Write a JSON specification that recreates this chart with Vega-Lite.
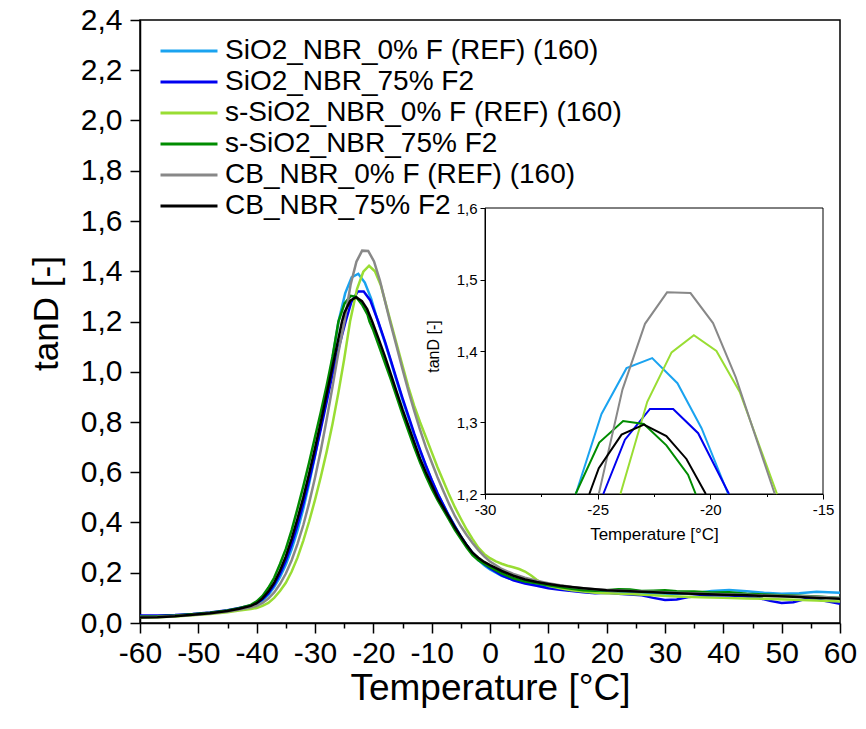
{
"$schema":"https://vega.github.io/schema/vega-lite/v6.json",
"width":700,"height":603,
"autosize":{"type":"none"},
"padding":{"left":140,"top":20,"right":26,"bottom":106},
"background":"white",
"config":{
 "font":"Liberation Sans",
 "view":{"stroke":"black","strokeWidth":1.5},
 "axis":{"grid":false,"domainColor":"black","tickColor":"black","labelColor":"black","titleColor":"black","titleFontWeight":"normal","labelFont":"Liberation Sans","titleFont":"Liberation Sans"},
 "legend":{"labelFont":"Liberation Sans"}
},
"data":{"values":[
{"s":"SiO2_NBR_0% F (REF) (160)","T":-60,"v":0.025},{"s":"SiO2_NBR_0% F (REF) (160)","T":-57,"v":0.026},{"s":"SiO2_NBR_0% F (REF) (160)","T":-54,"v":0.029},{"s":"SiO2_NBR_0% F (REF) (160)","T":-51,"v":0.034},{"s":"SiO2_NBR_0% F (REF) (160)","T":-48,"v":0.04},{"s":"SiO2_NBR_0% F (REF) (160)","T":-45,"v":0.048},{"s":"SiO2_NBR_0% F (REF) (160)","T":-43,"v":0.057},{"s":"SiO2_NBR_0% F (REF) (160)","T":-41,"v":0.066},{"s":"SiO2_NBR_0% F (REF) (160)","T":-40,"v":0.075},{"s":"SiO2_NBR_0% F (REF) (160)","T":-39,"v":0.09},{"s":"SiO2_NBR_0% F (REF) (160)","T":-38,"v":0.112},{"s":"SiO2_NBR_0% F (REF) (160)","T":-37,"v":0.143},{"s":"SiO2_NBR_0% F (REF) (160)","T":-36,"v":0.182},{"s":"SiO2_NBR_0% F (REF) (160)","T":-35,"v":0.232},{"s":"SiO2_NBR_0% F (REF) (160)","T":-34,"v":0.293},{"s":"SiO2_NBR_0% F (REF) (160)","T":-33,"v":0.368},{"s":"SiO2_NBR_0% F (REF) (160)","T":-32,"v":0.455},{"s":"SiO2_NBR_0% F (REF) (160)","T":-31,"v":0.555},{"s":"SiO2_NBR_0% F (REF) (160)","T":-30,"v":0.665},{"s":"SiO2_NBR_0% F (REF) (160)","T":-29,"v":0.785},{"s":"SiO2_NBR_0% F (REF) (160)","T":-28,"v":0.915},{"s":"SiO2_NBR_0% F (REF) (160)","T":-27,"v":1.055},{"s":"SiO2_NBR_0% F (REF) (160)","T":-25.97,"v":1.2},{"s":"SiO2_NBR_0% F (REF) (160)","T":-24.83,"v":1.312},{"s":"SiO2_NBR_0% F (REF) (160)","T":-23.72,"v":1.376},{"s":"SiO2_NBR_0% F (REF) (160)","T":-22.58,"v":1.39},{"s":"SiO2_NBR_0% F (REF) (160)","T":-21.46,"v":1.355},{"s":"SiO2_NBR_0% F (REF) (160)","T":-20.39,"v":1.292},{"s":"SiO2_NBR_0% F (REF) (160)","T":-19.21,"v":1.2},{"s":"SiO2_NBR_0% F (REF) (160)","T":-18,"v":1.115},{"s":"SiO2_NBR_0% F (REF) (160)","T":-17,"v":1.04},{"s":"SiO2_NBR_0% F (REF) (160)","T":-16,"v":0.963},{"s":"SiO2_NBR_0% F (REF) (160)","T":-15,"v":0.888},{"s":"SiO2_NBR_0% F (REF) (160)","T":-14,"v":0.818},{"s":"SiO2_NBR_0% F (REF) (160)","T":-13,"v":0.75},{"s":"SiO2_NBR_0% F (REF) (160)","T":-12,"v":0.685},{"s":"SiO2_NBR_0% F (REF) (160)","T":-11,"v":0.625},{"s":"SiO2_NBR_0% F (REF) (160)","T":-10,"v":0.568},{"s":"SiO2_NBR_0% F (REF) (160)","T":-9,"v":0.515},{"s":"SiO2_NBR_0% F (REF) (160)","T":-8,"v":0.47},{"s":"SiO2_NBR_0% F (REF) (160)","T":-7,"v":0.425},{"s":"SiO2_NBR_0% F (REF) (160)","T":-6,"v":0.385},{"s":"SiO2_NBR_0% F (REF) (160)","T":-5,"v":0.345},{"s":"SiO2_NBR_0% F (REF) (160)","T":-4,"v":0.31},{"s":"SiO2_NBR_0% F (REF) (160)","T":-3,"v":0.275},{"s":"SiO2_NBR_0% F (REF) (160)","T":-2,"v":0.25},{"s":"SiO2_NBR_0% F (REF) (160)","T":-1,"v":0.23},{"s":"SiO2_NBR_0% F (REF) (160)","T":0,"v":0.213},{"s":"SiO2_NBR_0% F (REF) (160)","T":2,"v":0.188},{"s":"SiO2_NBR_0% F (REF) (160)","T":4,"v":0.172},{"s":"SiO2_NBR_0% F (REF) (160)","T":6,"v":0.162},{"s":"SiO2_NBR_0% F (REF) (160)","T":8,"v":0.155},{"s":"SiO2_NBR_0% F (REF) (160)","T":10,"v":0.146},{"s":"SiO2_NBR_0% F (REF) (160)","T":12,"v":0.14},{"s":"SiO2_NBR_0% F (REF) (160)","T":14,"v":0.134},{"s":"SiO2_NBR_0% F (REF) (160)","T":16,"v":0.128},{"s":"SiO2_NBR_0% F (REF) (160)","T":18,"v":0.124},{"s":"SiO2_NBR_0% F (REF) (160)","T":20,"v":0.122},{"s":"SiO2_NBR_0% F (REF) (160)","T":24,"v":0.12},{"s":"SiO2_NBR_0% F (REF) (160)","T":28,"v":0.117},{"s":"SiO2_NBR_0% F (REF) (160)","T":32,"v":0.115},{"s":"SiO2_NBR_0% F (REF) (160)","T":35,"v":0.118},{"s":"SiO2_NBR_0% F (REF) (160)","T":38,"v":0.127},{"s":"SiO2_NBR_0% F (REF) (160)","T":41,"v":0.131},{"s":"SiO2_NBR_0% F (REF) (160)","T":44,"v":0.126},{"s":"SiO2_NBR_0% F (REF) (160)","T":47,"v":0.12},{"s":"SiO2_NBR_0% F (REF) (160)","T":50,"v":0.116},{"s":"SiO2_NBR_0% F (REF) (160)","T":53,"v":0.118},{"s":"SiO2_NBR_0% F (REF) (160)","T":56,"v":0.124},{"s":"SiO2_NBR_0% F (REF) (160)","T":58,"v":0.122},{"s":"SiO2_NBR_0% F (REF) (160)","T":60,"v":0.12},
{"s":"SiO2_NBR_75% F2","T":-60,"v":0.03},{"s":"SiO2_NBR_75% F2","T":-57,"v":0.03},{"s":"SiO2_NBR_75% F2","T":-54,"v":0.032},{"s":"SiO2_NBR_75% F2","T":-51,"v":0.036},{"s":"SiO2_NBR_75% F2","T":-48,"v":0.042},{"s":"SiO2_NBR_75% F2","T":-45,"v":0.051},{"s":"SiO2_NBR_75% F2","T":-43,"v":0.06},{"s":"SiO2_NBR_75% F2","T":-41,"v":0.07},{"s":"SiO2_NBR_75% F2","T":-40,"v":0.078},{"s":"SiO2_NBR_75% F2","T":-39,"v":0.094},{"s":"SiO2_NBR_75% F2","T":-38,"v":0.118},{"s":"SiO2_NBR_75% F2","T":-37,"v":0.152},{"s":"SiO2_NBR_75% F2","T":-36,"v":0.195},{"s":"SiO2_NBR_75% F2","T":-35,"v":0.248},{"s":"SiO2_NBR_75% F2","T":-34,"v":0.313},{"s":"SiO2_NBR_75% F2","T":-33,"v":0.39},{"s":"SiO2_NBR_75% F2","T":-32,"v":0.475},{"s":"SiO2_NBR_75% F2","T":-31,"v":0.568},{"s":"SiO2_NBR_75% F2","T":-30,"v":0.668},{"s":"SiO2_NBR_75% F2","T":-29,"v":0.772},{"s":"SiO2_NBR_75% F2","T":-28,"v":0.88},{"s":"SiO2_NBR_75% F2","T":-27,"v":0.99},{"s":"SiO2_NBR_75% F2","T":-26,"v":1.09},{"s":"SiO2_NBR_75% F2","T":-24.75,"v":1.2},{"s":"SiO2_NBR_75% F2","T":-23.79,"v":1.276},{"s":"SiO2_NBR_75% F2","T":-22.68,"v":1.319},{"s":"SiO2_NBR_75% F2","T":-21.65,"v":1.319},{"s":"SiO2_NBR_75% F2","T":-20.54,"v":1.285},{"s":"SiO2_NBR_75% F2","T":-19.17,"v":1.2},{"s":"SiO2_NBR_75% F2","T":-18,"v":1.12},{"s":"SiO2_NBR_75% F2","T":-17,"v":1.045},{"s":"SiO2_NBR_75% F2","T":-16,"v":0.97},{"s":"SiO2_NBR_75% F2","T":-15,"v":0.895},{"s":"SiO2_NBR_75% F2","T":-14,"v":0.825},{"s":"SiO2_NBR_75% F2","T":-13,"v":0.755},{"s":"SiO2_NBR_75% F2","T":-12,"v":0.69},{"s":"SiO2_NBR_75% F2","T":-11,"v":0.628},{"s":"SiO2_NBR_75% F2","T":-10,"v":0.57},{"s":"SiO2_NBR_75% F2","T":-9,"v":0.517},{"s":"SiO2_NBR_75% F2","T":-8,"v":0.47},{"s":"SiO2_NBR_75% F2","T":-7,"v":0.425},{"s":"SiO2_NBR_75% F2","T":-6,"v":0.384},{"s":"SiO2_NBR_75% F2","T":-5,"v":0.345},{"s":"SiO2_NBR_75% F2","T":-4,"v":0.31},{"s":"SiO2_NBR_75% F2","T":-3,"v":0.28},{"s":"SiO2_NBR_75% F2","T":-2,"v":0.255},{"s":"SiO2_NBR_75% F2","T":-1,"v":0.235},{"s":"SiO2_NBR_75% F2","T":0,"v":0.218},{"s":"SiO2_NBR_75% F2","T":2,"v":0.19},{"s":"SiO2_NBR_75% F2","T":4,"v":0.17},{"s":"SiO2_NBR_75% F2","T":6,"v":0.157},{"s":"SiO2_NBR_75% F2","T":8,"v":0.148},{"s":"SiO2_NBR_75% F2","T":10,"v":0.138},{"s":"SiO2_NBR_75% F2","T":12,"v":0.132},{"s":"SiO2_NBR_75% F2","T":14,"v":0.127},{"s":"SiO2_NBR_75% F2","T":16,"v":0.122},{"s":"SiO2_NBR_75% F2","T":18,"v":0.118},{"s":"SiO2_NBR_75% F2","T":20,"v":0.12},{"s":"SiO2_NBR_75% F2","T":22,"v":0.116},{"s":"SiO2_NBR_75% F2","T":24,"v":0.113},{"s":"SiO2_NBR_75% F2","T":26,"v":0.11},{"s":"SiO2_NBR_75% F2","T":28,"v":0.1},{"s":"SiO2_NBR_75% F2","T":30,"v":0.092},{"s":"SiO2_NBR_75% F2","T":32,"v":0.094},{"s":"SiO2_NBR_75% F2","T":34,"v":0.103},{"s":"SiO2_NBR_75% F2","T":37,"v":0.108},{"s":"SiO2_NBR_75% F2","T":40,"v":0.11},{"s":"SiO2_NBR_75% F2","T":43,"v":0.107},{"s":"SiO2_NBR_75% F2","T":46,"v":0.1},{"s":"SiO2_NBR_75% F2","T":48,"v":0.088},{"s":"SiO2_NBR_75% F2","T":50,"v":0.08},{"s":"SiO2_NBR_75% F2","T":52,"v":0.083},{"s":"SiO2_NBR_75% F2","T":54,"v":0.095},{"s":"SiO2_NBR_75% F2","T":56,"v":0.094},{"s":"SiO2_NBR_75% F2","T":58,"v":0.085},{"s":"SiO2_NBR_75% F2","T":60,"v":0.077},
{"s":"s-SiO2_NBR_0% F (REF) (160)","T":-60,"v":0.022},{"s":"s-SiO2_NBR_0% F (REF) (160)","T":-57,"v":0.023},{"s":"s-SiO2_NBR_0% F (REF) (160)","T":-54,"v":0.026},{"s":"s-SiO2_NBR_0% F (REF) (160)","T":-51,"v":0.031},{"s":"s-SiO2_NBR_0% F (REF) (160)","T":-48,"v":0.036},{"s":"s-SiO2_NBR_0% F (REF) (160)","T":-45,"v":0.043},{"s":"s-SiO2_NBR_0% F (REF) (160)","T":-43,"v":0.05},{"s":"s-SiO2_NBR_0% F (REF) (160)","T":-41,"v":0.056},{"s":"s-SiO2_NBR_0% F (REF) (160)","T":-40,"v":0.06},{"s":"s-SiO2_NBR_0% F (REF) (160)","T":-39,"v":0.068},{"s":"s-SiO2_NBR_0% F (REF) (160)","T":-38,"v":0.08},{"s":"s-SiO2_NBR_0% F (REF) (160)","T":-37,"v":0.1},{"s":"s-SiO2_NBR_0% F (REF) (160)","T":-36,"v":0.127},{"s":"s-SiO2_NBR_0% F (REF) (160)","T":-35,"v":0.16},{"s":"s-SiO2_NBR_0% F (REF) (160)","T":-34,"v":0.205},{"s":"s-SiO2_NBR_0% F (REF) (160)","T":-33,"v":0.26},{"s":"s-SiO2_NBR_0% F (REF) (160)","T":-32,"v":0.328},{"s":"s-SiO2_NBR_0% F (REF) (160)","T":-31,"v":0.405},{"s":"s-SiO2_NBR_0% F (REF) (160)","T":-30,"v":0.49},{"s":"s-SiO2_NBR_0% F (REF) (160)","T":-29,"v":0.582},{"s":"s-SiO2_NBR_0% F (REF) (160)","T":-28,"v":0.682},{"s":"s-SiO2_NBR_0% F (REF) (160)","T":-27,"v":0.792},{"s":"s-SiO2_NBR_0% F (REF) (160)","T":-26,"v":0.915},{"s":"s-SiO2_NBR_0% F (REF) (160)","T":-25,"v":1.05},{"s":"s-SiO2_NBR_0% F (REF) (160)","T":-23.99,"v":1.2},{"s":"s-SiO2_NBR_0% F (REF) (160)","T":-22.8,"v":1.329},{"s":"s-SiO2_NBR_0% F (REF) (160)","T":-21.72,"v":1.398},{"s":"s-SiO2_NBR_0% F (REF) (160)","T":-20.73,"v":1.422},{"s":"s-SiO2_NBR_0% F (REF) (160)","T":-19.73,"v":1.4},{"s":"s-SiO2_NBR_0% F (REF) (160)","T":-18.7,"v":1.343},{"s":"s-SiO2_NBR_0% F (REF) (160)","T":-17.04,"v":1.2},{"s":"s-SiO2_NBR_0% F (REF) (160)","T":-16,"v":1.11},{"s":"s-SiO2_NBR_0% F (REF) (160)","T":-15,"v":1.025},{"s":"s-SiO2_NBR_0% F (REF) (160)","T":-14,"v":0.94},{"s":"s-SiO2_NBR_0% F (REF) (160)","T":-13,"v":0.865},{"s":"s-SiO2_NBR_0% F (REF) (160)","T":-12,"v":0.8},{"s":"s-SiO2_NBR_0% F (REF) (160)","T":-11,"v":0.74},{"s":"s-SiO2_NBR_0% F (REF) (160)","T":-10,"v":0.68},{"s":"s-SiO2_NBR_0% F (REF) (160)","T":-9,"v":0.62},{"s":"s-SiO2_NBR_0% F (REF) (160)","T":-8,"v":0.565},{"s":"s-SiO2_NBR_0% F (REF) (160)","T":-7,"v":0.51},{"s":"s-SiO2_NBR_0% F (REF) (160)","T":-6,"v":0.46},{"s":"s-SiO2_NBR_0% F (REF) (160)","T":-5,"v":0.415},{"s":"s-SiO2_NBR_0% F (REF) (160)","T":-4,"v":0.372},{"s":"s-SiO2_NBR_0% F (REF) (160)","T":-3,"v":0.335},{"s":"s-SiO2_NBR_0% F (REF) (160)","T":-2,"v":0.3},{"s":"s-SiO2_NBR_0% F (REF) (160)","T":-1,"v":0.275},{"s":"s-SiO2_NBR_0% F (REF) (160)","T":0,"v":0.258},{"s":"s-SiO2_NBR_0% F (REF) (160)","T":1,"v":0.245},{"s":"s-SiO2_NBR_0% F (REF) (160)","T":2,"v":0.236},{"s":"s-SiO2_NBR_0% F (REF) (160)","T":3,"v":0.228},{"s":"s-SiO2_NBR_0% F (REF) (160)","T":4,"v":0.222},{"s":"s-SiO2_NBR_0% F (REF) (160)","T":5,"v":0.215},{"s":"s-SiO2_NBR_0% F (REF) (160)","T":6,"v":0.205},{"s":"s-SiO2_NBR_0% F (REF) (160)","T":7,"v":0.19},{"s":"s-SiO2_NBR_0% F (REF) (160)","T":8,"v":0.172},{"s":"s-SiO2_NBR_0% F (REF) (160)","T":9,"v":0.158},{"s":"s-SiO2_NBR_0% F (REF) (160)","T":10,"v":0.148},{"s":"s-SiO2_NBR_0% F (REF) (160)","T":12,"v":0.138},{"s":"s-SiO2_NBR_0% F (REF) (160)","T":14,"v":0.13},{"s":"s-SiO2_NBR_0% F (REF) (160)","T":16,"v":0.125},{"s":"s-SiO2_NBR_0% F (REF) (160)","T":18,"v":0.12},{"s":"s-SiO2_NBR_0% F (REF) (160)","T":20,"v":0.118},{"s":"s-SiO2_NBR_0% F (REF) (160)","T":24,"v":0.115},{"s":"s-SiO2_NBR_0% F (REF) (160)","T":28,"v":0.11},{"s":"s-SiO2_NBR_0% F (REF) (160)","T":32,"v":0.105},{"s":"s-SiO2_NBR_0% F (REF) (160)","T":36,"v":0.102},{"s":"s-SiO2_NBR_0% F (REF) (160)","T":40,"v":0.1},{"s":"s-SiO2_NBR_0% F (REF) (160)","T":44,"v":0.098},{"s":"s-SiO2_NBR_0% F (REF) (160)","T":48,"v":0.096},{"s":"s-SiO2_NBR_0% F (REF) (160)","T":52,"v":0.093},{"s":"s-SiO2_NBR_0% F (REF) (160)","T":56,"v":0.09},{"s":"s-SiO2_NBR_0% F (REF) (160)","T":60,"v":0.086},
{"s":"s-SiO2_NBR_75% F2","T":-60,"v":0.026},{"s":"s-SiO2_NBR_75% F2","T":-57,"v":0.027},{"s":"s-SiO2_NBR_75% F2","T":-54,"v":0.03},{"s":"s-SiO2_NBR_75% F2","T":-51,"v":0.035},{"s":"s-SiO2_NBR_75% F2","T":-48,"v":0.041},{"s":"s-SiO2_NBR_75% F2","T":-45,"v":0.05},{"s":"s-SiO2_NBR_75% F2","T":-43,"v":0.059},{"s":"s-SiO2_NBR_75% F2","T":-41,"v":0.072},{"s":"s-SiO2_NBR_75% F2","T":-40,"v":0.086},{"s":"s-SiO2_NBR_75% F2","T":-39,"v":0.108},{"s":"s-SiO2_NBR_75% F2","T":-38,"v":0.14},{"s":"s-SiO2_NBR_75% F2","T":-37,"v":0.18},{"s":"s-SiO2_NBR_75% F2","T":-36,"v":0.235},{"s":"s-SiO2_NBR_75% F2","T":-35,"v":0.295},{"s":"s-SiO2_NBR_75% F2","T":-34,"v":0.37},{"s":"s-SiO2_NBR_75% F2","T":-33,"v":0.455},{"s":"s-SiO2_NBR_75% F2","T":-32,"v":0.545},{"s":"s-SiO2_NBR_75% F2","T":-31,"v":0.64},{"s":"s-SiO2_NBR_75% F2","T":-30,"v":0.74},{"s":"s-SiO2_NBR_75% F2","T":-29,"v":0.84},{"s":"s-SiO2_NBR_75% F2","T":-28,"v":0.945},{"s":"s-SiO2_NBR_75% F2","T":-27,"v":1.06},{"s":"s-SiO2_NBR_75% F2","T":-25.98,"v":1.2},{"s":"s-SiO2_NBR_75% F2","T":-24.93,"v":1.272},{"s":"s-SiO2_NBR_75% F2","T":-23.87,"v":1.302},{"s":"s-SiO2_NBR_75% F2","T":-22.95,"v":1.298},{"s":"s-SiO2_NBR_75% F2","T":-21.95,"v":1.268},{"s":"s-SiO2_NBR_75% F2","T":-20.99,"v":1.227},{"s":"s-SiO2_NBR_75% F2","T":-20.65,"v":1.2},{"s":"s-SiO2_NBR_75% F2","T":-20,"v":1.165},{"s":"s-SiO2_NBR_75% F2","T":-19,"v":1.1},{"s":"s-SiO2_NBR_75% F2","T":-18,"v":1.035},{"s":"s-SiO2_NBR_75% F2","T":-17,"v":0.97},{"s":"s-SiO2_NBR_75% F2","T":-16,"v":0.9},{"s":"s-SiO2_NBR_75% F2","T":-15,"v":0.83},{"s":"s-SiO2_NBR_75% F2","T":-14,"v":0.765},{"s":"s-SiO2_NBR_75% F2","T":-13,"v":0.7},{"s":"s-SiO2_NBR_75% F2","T":-12,"v":0.64},{"s":"s-SiO2_NBR_75% F2","T":-11,"v":0.585},{"s":"s-SiO2_NBR_75% F2","T":-10,"v":0.535},{"s":"s-SiO2_NBR_75% F2","T":-9,"v":0.49},{"s":"s-SiO2_NBR_75% F2","T":-8,"v":0.45},{"s":"s-SiO2_NBR_75% F2","T":-7,"v":0.41},{"s":"s-SiO2_NBR_75% F2","T":-6,"v":0.37},{"s":"s-SiO2_NBR_75% F2","T":-5,"v":0.335},{"s":"s-SiO2_NBR_75% F2","T":-4,"v":0.3},{"s":"s-SiO2_NBR_75% F2","T":-3,"v":0.27},{"s":"s-SiO2_NBR_75% F2","T":-2,"v":0.25},{"s":"s-SiO2_NBR_75% F2","T":-1,"v":0.235},{"s":"s-SiO2_NBR_75% F2","T":0,"v":0.222},{"s":"s-SiO2_NBR_75% F2","T":2,"v":0.198},{"s":"s-SiO2_NBR_75% F2","T":4,"v":0.178},{"s":"s-SiO2_NBR_75% F2","T":6,"v":0.165},{"s":"s-SiO2_NBR_75% F2","T":8,"v":0.158},{"s":"s-SiO2_NBR_75% F2","T":10,"v":0.15},{"s":"s-SiO2_NBR_75% F2","T":12,"v":0.143},{"s":"s-SiO2_NBR_75% F2","T":14,"v":0.136},{"s":"s-SiO2_NBR_75% F2","T":16,"v":0.13},{"s":"s-SiO2_NBR_75% F2","T":18,"v":0.128},{"s":"s-SiO2_NBR_75% F2","T":20,"v":0.13},{"s":"s-SiO2_NBR_75% F2","T":22,"v":0.134},{"s":"s-SiO2_NBR_75% F2","T":24,"v":0.133},{"s":"s-SiO2_NBR_75% F2","T":26,"v":0.127},{"s":"s-SiO2_NBR_75% F2","T":28,"v":0.128},{"s":"s-SiO2_NBR_75% F2","T":30,"v":0.13},{"s":"s-SiO2_NBR_75% F2","T":32,"v":0.126},{"s":"s-SiO2_NBR_75% F2","T":35,"v":0.125},{"s":"s-SiO2_NBR_75% F2","T":38,"v":0.121},{"s":"s-SiO2_NBR_75% F2","T":41,"v":0.122},{"s":"s-SiO2_NBR_75% F2","T":44,"v":0.116},{"s":"s-SiO2_NBR_75% F2","T":47,"v":0.113},{"s":"s-SiO2_NBR_75% F2","T":50,"v":0.11},{"s":"s-SiO2_NBR_75% F2","T":53,"v":0.108},{"s":"s-SiO2_NBR_75% F2","T":56,"v":0.105},{"s":"s-SiO2_NBR_75% F2","T":60,"v":0.1},
{"s":"CB_NBR_0% F (REF) (160)","T":-60,"v":0.024},{"s":"CB_NBR_0% F (REF) (160)","T":-57,"v":0.025},{"s":"CB_NBR_0% F (REF) (160)","T":-54,"v":0.028},{"s":"CB_NBR_0% F (REF) (160)","T":-51,"v":0.032},{"s":"CB_NBR_0% F (REF) (160)","T":-48,"v":0.038},{"s":"CB_NBR_0% F (REF) (160)","T":-45,"v":0.046},{"s":"CB_NBR_0% F (REF) (160)","T":-43,"v":0.054},{"s":"CB_NBR_0% F (REF) (160)","T":-41,"v":0.063},{"s":"CB_NBR_0% F (REF) (160)","T":-40,"v":0.068},{"s":"CB_NBR_0% F (REF) (160)","T":-39,"v":0.08},{"s":"CB_NBR_0% F (REF) (160)","T":-38,"v":0.097},{"s":"CB_NBR_0% F (REF) (160)","T":-37,"v":0.122},{"s":"CB_NBR_0% F (REF) (160)","T":-36,"v":0.155},{"s":"CB_NBR_0% F (REF) (160)","T":-35,"v":0.197},{"s":"CB_NBR_0% F (REF) (160)","T":-34,"v":0.25},{"s":"CB_NBR_0% F (REF) (160)","T":-33,"v":0.315},{"s":"CB_NBR_0% F (REF) (160)","T":-32,"v":0.39},{"s":"CB_NBR_0% F (REF) (160)","T":-31,"v":0.478},{"s":"CB_NBR_0% F (REF) (160)","T":-30,"v":0.578},{"s":"CB_NBR_0% F (REF) (160)","T":-29,"v":0.688},{"s":"CB_NBR_0% F (REF) (160)","T":-28,"v":0.81},{"s":"CB_NBR_0% F (REF) (160)","T":-27,"v":0.94},{"s":"CB_NBR_0% F (REF) (160)","T":-26,"v":1.075},{"s":"CB_NBR_0% F (REF) (160)","T":-24.95,"v":1.2},{"s":"CB_NBR_0% F (REF) (160)","T":-23.9,"v":1.346},{"s":"CB_NBR_0% F (REF) (160)","T":-22.9,"v":1.438},{"s":"CB_NBR_0% F (REF) (160)","T":-21.92,"v":1.482},{"s":"CB_NBR_0% F (REF) (160)","T":-20.88,"v":1.481},{"s":"CB_NBR_0% F (REF) (160)","T":-19.88,"v":1.439},{"s":"CB_NBR_0% F (REF) (160)","T":-18.87,"v":1.363},{"s":"CB_NBR_0% F (REF) (160)","T":-17.14,"v":1.2},{"s":"CB_NBR_0% F (REF) (160)","T":-16,"v":1.1},{"s":"CB_NBR_0% F (REF) (160)","T":-15,"v":1.01},{"s":"CB_NBR_0% F (REF) (160)","T":-14,"v":0.925},{"s":"CB_NBR_0% F (REF) (160)","T":-13,"v":0.845},{"s":"CB_NBR_0% F (REF) (160)","T":-12,"v":0.77},{"s":"CB_NBR_0% F (REF) (160)","T":-11,"v":0.7},{"s":"CB_NBR_0% F (REF) (160)","T":-10,"v":0.64},{"s":"CB_NBR_0% F (REF) (160)","T":-9,"v":0.58},{"s":"CB_NBR_0% F (REF) (160)","T":-8,"v":0.525},{"s":"CB_NBR_0% F (REF) (160)","T":-7,"v":0.473},{"s":"CB_NBR_0% F (REF) (160)","T":-6,"v":0.425},{"s":"CB_NBR_0% F (REF) (160)","T":-5,"v":0.385},{"s":"CB_NBR_0% F (REF) (160)","T":-4,"v":0.35},{"s":"CB_NBR_0% F (REF) (160)","T":-3,"v":0.318},{"s":"CB_NBR_0% F (REF) (160)","T":-2,"v":0.29},{"s":"CB_NBR_0% F (REF) (160)","T":-1,"v":0.265},{"s":"CB_NBR_0% F (REF) (160)","T":0,"v":0.245},{"s":"CB_NBR_0% F (REF) (160)","T":2,"v":0.215},{"s":"CB_NBR_0% F (REF) (160)","T":4,"v":0.195},{"s":"CB_NBR_0% F (REF) (160)","T":6,"v":0.18},{"s":"CB_NBR_0% F (REF) (160)","T":8,"v":0.168},{"s":"CB_NBR_0% F (REF) (160)","T":10,"v":0.158},{"s":"CB_NBR_0% F (REF) (160)","T":12,"v":0.15},{"s":"CB_NBR_0% F (REF) (160)","T":14,"v":0.143},{"s":"CB_NBR_0% F (REF) (160)","T":16,"v":0.138},{"s":"CB_NBR_0% F (REF) (160)","T":18,"v":0.134},{"s":"CB_NBR_0% F (REF) (160)","T":20,"v":0.131},{"s":"CB_NBR_0% F (REF) (160)","T":24,"v":0.127},{"s":"CB_NBR_0% F (REF) (160)","T":28,"v":0.124},{"s":"CB_NBR_0% F (REF) (160)","T":32,"v":0.12},{"s":"CB_NBR_0% F (REF) (160)","T":36,"v":0.117},{"s":"CB_NBR_0% F (REF) (160)","T":40,"v":0.114},{"s":"CB_NBR_0% F (REF) (160)","T":44,"v":0.112},{"s":"CB_NBR_0% F (REF) (160)","T":48,"v":0.109},{"s":"CB_NBR_0% F (REF) (160)","T":52,"v":0.107},{"s":"CB_NBR_0% F (REF) (160)","T":56,"v":0.104},{"s":"CB_NBR_0% F (REF) (160)","T":60,"v":0.1},
{"s":"CB_NBR_75% F2","T":-60,"v":0.022},{"s":"CB_NBR_75% F2","T":-57,"v":0.023},{"s":"CB_NBR_75% F2","T":-54,"v":0.027},{"s":"CB_NBR_75% F2","T":-51,"v":0.033},{"s":"CB_NBR_75% F2","T":-48,"v":0.039},{"s":"CB_NBR_75% F2","T":-45,"v":0.048},{"s":"CB_NBR_75% F2","T":-43,"v":0.057},{"s":"CB_NBR_75% F2","T":-41,"v":0.068},{"s":"CB_NBR_75% F2","T":-40,"v":0.079},{"s":"CB_NBR_75% F2","T":-39,"v":0.098},{"s":"CB_NBR_75% F2","T":-38,"v":0.125},{"s":"CB_NBR_75% F2","T":-37,"v":0.16},{"s":"CB_NBR_75% F2","T":-36,"v":0.208},{"s":"CB_NBR_75% F2","T":-35,"v":0.265},{"s":"CB_NBR_75% F2","T":-34,"v":0.335},{"s":"CB_NBR_75% F2","T":-33,"v":0.415},{"s":"CB_NBR_75% F2","T":-32,"v":0.5},{"s":"CB_NBR_75% F2","T":-31,"v":0.595},{"s":"CB_NBR_75% F2","T":-30,"v":0.695},{"s":"CB_NBR_75% F2","T":-29,"v":0.8},{"s":"CB_NBR_75% F2","T":-28,"v":0.91},{"s":"CB_NBR_75% F2","T":-27,"v":1.02},{"s":"CB_NBR_75% F2","T":-26,"v":1.13},{"s":"CB_NBR_75% F2","T":-25.37,"v":1.2},{"s":"CB_NBR_75% F2","T":-24.95,"v":1.236},{"s":"CB_NBR_75% F2","T":-23.94,"v":1.283},{"s":"CB_NBR_75% F2","T":-22.95,"v":1.297},{"s":"CB_NBR_75% F2","T":-21.95,"v":1.281},{"s":"CB_NBR_75% F2","T":-21.06,"v":1.249},{"s":"CB_NBR_75% F2","T":-20.2,"v":1.2},{"s":"CB_NBR_75% F2","T":-19,"v":1.125},{"s":"CB_NBR_75% F2","T":-18,"v":1.06},{"s":"CB_NBR_75% F2","T":-17,"v":0.99},{"s":"CB_NBR_75% F2","T":-16,"v":0.92},{"s":"CB_NBR_75% F2","T":-15,"v":0.85},{"s":"CB_NBR_75% F2","T":-14,"v":0.785},{"s":"CB_NBR_75% F2","T":-13,"v":0.72},{"s":"CB_NBR_75% F2","T":-12,"v":0.655},{"s":"CB_NBR_75% F2","T":-11,"v":0.6},{"s":"CB_NBR_75% F2","T":-10,"v":0.55},{"s":"CB_NBR_75% F2","T":-9,"v":0.5},{"s":"CB_NBR_75% F2","T":-8,"v":0.46},{"s":"CB_NBR_75% F2","T":-7,"v":0.42},{"s":"CB_NBR_75% F2","T":-6,"v":0.38},{"s":"CB_NBR_75% F2","T":-5,"v":0.345},{"s":"CB_NBR_75% F2","T":-4,"v":0.31},{"s":"CB_NBR_75% F2","T":-3,"v":0.28},{"s":"CB_NBR_75% F2","T":-2,"v":0.26},{"s":"CB_NBR_75% F2","T":-1,"v":0.243},{"s":"CB_NBR_75% F2","T":0,"v":0.23},{"s":"CB_NBR_75% F2","T":2,"v":0.207},{"s":"CB_NBR_75% F2","T":4,"v":0.188},{"s":"CB_NBR_75% F2","T":6,"v":0.173},{"s":"CB_NBR_75% F2","T":8,"v":0.163},{"s":"CB_NBR_75% F2","T":10,"v":0.155},{"s":"CB_NBR_75% F2","T":12,"v":0.148},{"s":"CB_NBR_75% F2","T":14,"v":0.143},{"s":"CB_NBR_75% F2","T":16,"v":0.138},{"s":"CB_NBR_75% F2","T":18,"v":0.134},{"s":"CB_NBR_75% F2","T":20,"v":0.13},{"s":"CB_NBR_75% F2","T":24,"v":0.126},{"s":"CB_NBR_75% F2","T":28,"v":0.122},{"s":"CB_NBR_75% F2","T":32,"v":0.118},{"s":"CB_NBR_75% F2","T":36,"v":0.115},{"s":"CB_NBR_75% F2","T":40,"v":0.112},{"s":"CB_NBR_75% F2","T":44,"v":0.11},{"s":"CB_NBR_75% F2","T":48,"v":0.107},{"s":"CB_NBR_75% F2","T":52,"v":0.104},{"s":"CB_NBR_75% F2","T":56,"v":0.1},{"s":"CB_NBR_75% F2","T":60,"v":0.097}
]},
"layer":[
 {
  "mark":{"type":"line","strokeWidth":2.5},
  "encoding":{
   "x":{"field":"T","type":"quantitative","scale":{"domain":[-60,60],"nice":false,"zero":false},
    "axis":{"orient":"bottom","values":[-60,-55,-50,-45,-40,-35,-30,-25,-20,-15,-10,-5,0,5,10,15,20,25,30,35,40,45,50,55,60],
     "labelExpr":"datum.value % 10 === 0 ? '' + datum.value : ''","labelFontSize":30,"labelPadding":5,"labelFlush":false,"labelOverlap":false,
     "tickSize":{"condition":{"test":"datum.value % 10 === 0","value":10},"value":5},"tickWidth":1.5,"domainWidth":1.5,
     "title":"Temperature [°C]","titleFontSize":37,"titleX":350,"titleY":76,"titleBaseline":"alphabetic","titleAnchor":"middle"}},
   "y":{"field":"v","type":"quantitative","scale":{"domain":[0,2.4],"nice":false,"zero":false},
    "axis":{"orient":"left","values":[0,0.2,0.4,0.6,0.8,1,1.2,1.4,1.6,1.8,2,2.2,2.4],
     "labelExpr":"replace(format(datum.value, '.1f'), '.', ',')","labelFontSize":30,"labelPadding":8,"labelFlush":false,"labelOverlap":false,
     "tickSize":10,"tickWidth":1.5,"domainWidth":1.5,
     "title":"tanD [-]","titleFontSize":35,"titleX":-83,"titleY":293,"titleAngle":-90,"titleBaseline":"alphabetic","titleAlign":"center"}},
   "color":{"field":"s","type":"nominal",
    "scale":{"domain":["SiO2_NBR_0% F (REF) (160)","SiO2_NBR_75% F2","s-SiO2_NBR_0% F (REF) (160)","s-SiO2_NBR_75% F2","CB_NBR_0% F (REF) (160)","CB_NBR_75% F2"],
     "range":["#1aa3f0","#0000f0","#99dd33","#008c00","#888888","#000000"]},
    "legend":{"orient":"none","legendX":35,"legendY":17,"title":null,"padding":0,"symbolType":"M-4,0H4","symbolSize":203,"symbolStrokeWidth":3,
     "labelFontSize":28,"labelOffset":22,"rowPadding":3,"labelLimit":600,"labelColor":"black"}}
  }
 },
 {
  "layer":[
   {
    "data":{"values":[{}]},
    "mark":{"type":"rect","filled":false,"stroke":"black","strokeWidth":1},
    "encoding":{
     "x":{"datum":-30,"type":"quantitative","scale":{"domain":[-30,-15],"range":[345,683],"nice":false,"zero":false},
      "axis":{"orient":"bottom","offset":-129,"values":[-30,-27.5,-25,-22.5,-20,-17.5,-15],
       "labelExpr":"datum.value % 5 === 0 ? '' + datum.value : ''","labelFontSize":15,"labelPadding":3,"labelFlush":false,"labelOverlap":false,
       "tickSize":{"condition":{"test":"datum.value % 5 === 0","value":5},"value":2.5},"tickWidth":1,"domainWidth":1,
       "title":"Temperature [°C]","titleFontSize":17,"titleX":514,"titleY":45,"titleBaseline":"alphabetic"}},
     "x2":{"datum":-15},
     "y":{"datum":1.2,"type":"quantitative","scale":{"domain":[1.2,1.6],"range":[474,188],"nice":false,"zero":false},
      "axis":{"orient":"left","offset":-345,"values":[1.2,1.3,1.4,1.5,1.6],
       "labelExpr":"replace(format(datum.value, '.1f'), '.', ',')","labelFontSize":15,"labelPadding":3,"labelFlush":false,"labelOverlap":false,
       "tickSize":5,"tickWidth":1,"domainWidth":1,
       "title":"tanD [-]","titleFontSize":16,"titleX":-47,"titleY":326,"titleAngle":-90,"titleBaseline":"alphabetic","titleAlign":"center"}},
     "y2":{"datum":1.6}
    }
   },
   {
    "transform":[{"filter":"datum.v >= 1.2 && datum.T >= -30 && datum.T <= -15"}],
    "mark":{"type":"line","strokeWidth":2},
    "encoding":{
     "x":{"field":"T","type":"quantitative","scale":{"domain":[-30,-15],"range":[345,683],"nice":false,"zero":false}},
     "y":{"field":"v","type":"quantitative","scale":{"domain":[1.2,1.6],"range":[474,188],"nice":false,"zero":false}},
     "color":{"field":"s","type":"nominal"}
    }
   }
  ]
 }
],
"resolve":{"scale":{"x":"independent","y":"independent"}}
}
